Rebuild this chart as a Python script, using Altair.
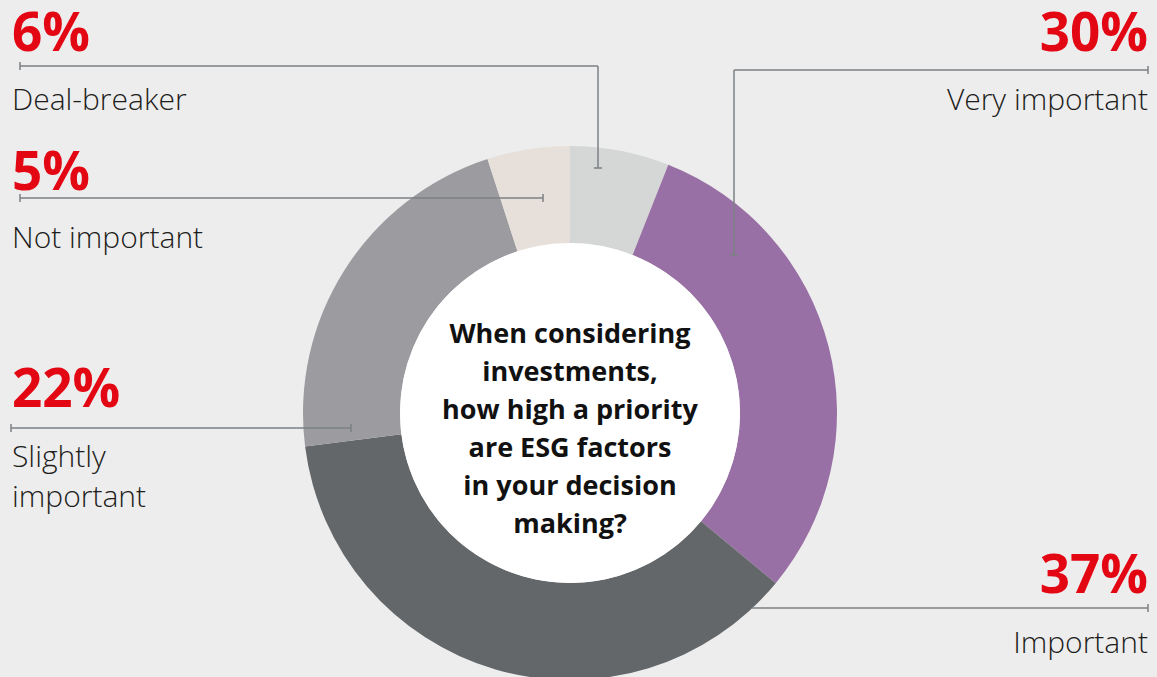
import altair as alt
import pandas as pd

W, H = 1157, 677

# ---- data ----
categories = ["Deal-breaker", "Very important", "Important", "Slightly important", "Not important"]
values = [6, 30, 37, 22, 5]
colors = ["#d5d7d6", "#9970a5", "#636769", "#9c9b9f", "#e7e0da"]
label_lines = [["Deal-breaker"], ["Very important"], ["Important"], ["Slightly", "important"], ["Not important"]]
question = ["When considering", "investments,", "how high a priority", "are ESG factors",
            "in your decision", "making?"]

# ---- layout (annotation positions, pixels) ----
label_side = ["left", "right", "right", "left", "left"]
label_x = [12, 1148, 1148, 12, 12]
pct_y = [51, 51, 593, 407, 190]
lab_y = [110, 110, 653, 467, 248]
# leader segments: (x, y, x2, y2)
leaders = [
    (20, 66, 598, 66), (598, 66, 598, 168), (20, 62, 20, 70), (594, 168, 602, 168),
    (734, 70, 1148, 70), (734, 70, 734, 255), (1148, 66, 1148, 74), (730, 255, 738, 255),
    (752, 608, 1148, 608), (1148, 604, 1148, 612),
    (11, 428, 351, 428), (11, 424, 11, 432), (351, 424, 351, 432),
    (20, 198, 543, 198), (20, 194, 20, 202), (543, 194, 543, 202),
]
CX, CY, R_OUT, R_IN = 570, 413, 267, 170

pie_df = pd.DataFrame({"cat": categories, "value": values, "order": range(len(values))})
lab_df = pd.DataFrame({
    "cat": categories,
    "pct": [f"{v}%" for v in values],
    "lines": label_lines,
    "side": label_side,
    "x": label_x,
    "py": pct_y,
    "ly": lab_y,
})
lead_df = pd.DataFrame(leaders, columns=["x", "y", "x2", "y2"])

xs = alt.Scale(domain=[0, W], range=[0, W])
ys = alt.Scale(domain=[0, H], range=[0, H])

donut = alt.Chart(pie_df).mark_arc(radius=R_OUT, radius2=R_IN, stroke=None).encode(
    theta=alt.Theta("value:Q", stack=True),
    order=alt.Order("order:Q"),
    color=alt.Color("cat:N", scale=alt.Scale(domain=categories, range=colors), legend=None),
    x=alt.value(CX), y=alt.value(CY),
)

hole = alt.Chart(pd.DataFrame({"a": [1]})).mark_arc(radius=R_IN, radius2=0, fill="white").encode(
    theta=alt.value(6.2832), x=alt.value(CX), y=alt.value(CY)
)

rules = alt.Chart(lead_df).mark_rule(color="#7d8083", strokeWidth=1.5).encode(
    x=alt.X("x:Q", scale=xs, axis=None), x2="x2:Q",
    y=alt.Y("y:Q", scale=ys, axis=None), y2="y2:Q",
)

def pct_text(side):
    return alt.Chart(lab_df).transform_filter(alt.datum.side == side).mark_text(
        align=side, baseline="alphabetic", font="Open Sans", fontWeight="bold",
        fontSize=53, color="#e30613"
    ).encode(
        x=alt.X("x:Q", scale=xs, axis=None), y=alt.Y("py:Q", scale=ys, axis=None), text="pct:N"
    )

def lab_text(side):
    return alt.Chart(lab_df).transform_filter(alt.datum.side == side).mark_text(
        align=side, baseline="alphabetic", font="Open Sans", fontWeight=300,
        fontSize=30, color="#1d1d1b", lineHeight=40
    ).encode(
        x=alt.X("x:Q", scale=xs, axis=None), y=alt.Y("ly:Q", scale=ys, axis=None), text="lines"
    )

center = alt.Chart(pd.DataFrame({"a": [1]})).mark_text(
    align="center", baseline="alphabetic", font="Open Sans", fontWeight="bold",
    fontSize=27, color="#111111", lineHeight=38
).encode(x=alt.value(CX), y=alt.value(343), text=alt.value(question))

chart = alt.layer(
    donut, hole, rules, pct_text("left"), pct_text("right"), lab_text("left"), lab_text("right"), center
).properties(
    width=W, height=H, padding=0, autosize=alt.AutoSizeParams(type="none"), background="#ededed"
).configure_view(stroke=None)

chart.save("out.html", embed_options={"renderer": "svg", "actions": False})
